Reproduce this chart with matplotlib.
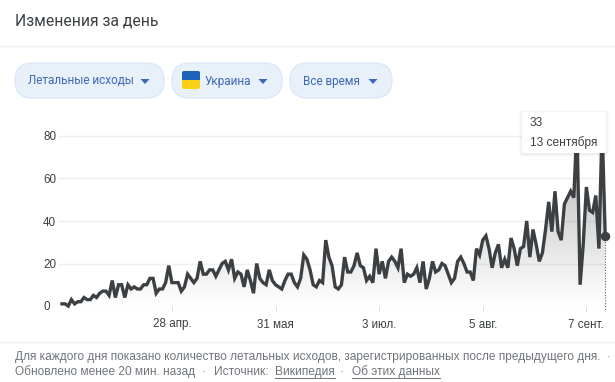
import numpy as np
import pandas as pd
import matplotlib
matplotlib.use('Agg')
import matplotlib.pyplot as plt
from matplotlib.colors import LinearSegmentedColormap
from matplotlib.patches import FancyBboxPatch, Polygon, Rectangle

# значения за день
deaths = [1, 1, 0, 3, 1, 2, 2, 4, 3, 3, 5, 4, 6, 7, 7, 5, 12, 4, 10, 10,
          4, 10, 8, 9, 8, 8, 10, 10, 13, 13, 6, 8, 8, 11, 19, 11, 11, 11, 7, 9,
          15, 13, 11, 13, 21, 15, 15, 17, 17, 14, 17, 20, 21, 17, 22, 13, 16, 15, 9, 17,
          12, 6, 20, 13, 11, 10, 17, 12, 10, 9, 8, 12, 15, 15, 11, 9, 13, 24, 22, 17,
          10, 9, 12, 11, 31, 23, 19, 9, 8, 10, 23, 16, 16, 19, 25, 19, 18, 12, 14, 11,
          27, 15, 21, 13, 21, 23, 21, 18, 27, 11, 15, 14, 15, 18, 11, 21, 8, 13, 21, 16,
          17, 20, 19, 15, 11, 13, 21, 23, 20, 16, 16, 12, 27, 24, 31, 33, 27, 18, 25, 29,
          18, 22, 18, 32, 27, 19, 27, 28, 40, 23, 36, 29, 21, 25, 36, 49, 35, 54, 35, 31,
          48, 51, 54, 51, 85, 10, 29, 56, 45, 44, 52, 27, 85, 33]
start_date = '2020-03-24'
x_ticks = ['2020-04-28', '2020-05-31', '2020-07-03', '2020-08-05', '2020-09-07']
x_labels = ['28 апр.', '31 мая', '3 июл.', '5 авг.', '7 сент.']
y_ticks = [0, 20, 40, 60, 80]
filters = ['Летальные исходы', 'Украина', 'Все время']

W, H = 615, 382
plt.rcParams['font.family'] = ['Liberation Sans', 'DejaVu Sans']

days = pd.date_range(start_date, periods=len(deaths))
x = matplotlib.dates.date2num(days)

fig = plt.figure(figsize=(W / 100, H / 100), dpi=100, facecolor='white')

# область графика (в пикселях: 58..606 по x, 0 на y=306)
ax = fig.add_axes([58 / W, (H - 306) / H, 548 / W, 191 / H])
for s in ax.spines.values():
    s.set_visible(False)
ax.set_yticks(y_ticks)
ax.set_yticklabels([str(v) for v in y_ticks], ha='left')
ax.set_xticks(matplotlib.dates.date2num(pd.to_datetime(x_ticks)))
ax.set_xticklabels(x_labels)
ax.tick_params(axis='y', length=0, pad=10.8, labelsize=8.4, labelcolor='#3c4043')
ax.tick_params(axis='x', length=4, width=0.7, color='#dadce0', pad=5, labelsize=8.4, labelcolor='#3c4043')
ax.grid(axis='y', color='#eeeff1', linewidth=1)
ax.set_axisbelow(True)

# заливка с градиентом под линией
cmap = LinearSegmentedColormap.from_list('fade', [(0.24, 0.25, 0.26, 0.0), (0.24, 0.25, 0.26, 0.42)])
grad = ax.imshow(np.linspace(1, 0, 256).reshape(-1, 1), cmap=cmap, aspect='auto',
                 extent=[x[0], x[-1], 0, 85], zorder=1)
poly = Polygon(np.column_stack([np.r_[x[0], x, x[-1]], np.r_[0, deaths, 0]]), transform=ax.transData,
               facecolor='none', edgecolor='none')
ax.add_patch(poly)
grad.set_clip_path(poly)
ax.set_xlim(x[0] - 1.27, x[0] + 173.25)
ax.set_ylim(0, 191 / 2.125)

ax.plot(x, deaths, color='#3c4043', linewidth=2.4, solid_joinstyle='miter', zorder=3, clip_on=False)
ax.plot([x[-1], x[-1]], [deaths[-1], -2], color='#5f6368', linewidth=0.8, linestyle=(0, (1, 1.5)),
        zorder=2, clip_on=False)
ax.plot(x[-1], deaths[-1], 'o', color='#3c4043', markersize=5.8, zorder=4, clip_on=False)

# слой для интерфейса, координаты в пикселях
ui = fig.add_axes([0, 0, 1, 1], zorder=5)
ui.set_xlim(0, W)
ui.set_ylim(H, 0)
ui.axis('off')

ui.text(15, 21, 'Изменения за день', fontsize=11.3, color='#3c4043', va='center', family=['Roboto', 'DejaVu Sans'])
ui.plot([0, W], [46, 46], color='#eceef0', linewidth=1)
ui.plot([0, W], [342, 342], color='#eceef0', linewidth=1)

# кнопки-фильтры
pills = [(15, 164), (172, 282), (290, 392)]
text_x = [28, 205, 303]
arrow_x = [145, 263, 373]
for (x0, x1), arrow in zip(pills, arrow_x):
    ui.add_patch(FancyBboxPatch((x0, 63), x1 - x0, 35, boxstyle='round,pad=0,rounding_size=17.5',
                                facecolor='#e8f0fa', edgecolor='#dde8f8', linewidth=1))
    ui.add_patch(Polygon([(arrow - 4.5, 79), (arrow + 4.5, 79), (arrow, 84)], facecolor='#3b67b5', edgecolor='none'))
for label, tx in zip(filters, text_x):
    ui.text(tx, 81, label, fontsize=8.5, color='#3f68b5', va='center', family=['Roboto', 'DejaVu Sans'])

# флаг
ui.add_patch(FancyBboxPatch((182, 71), 18, 18, boxstyle='round,pad=0,rounding_size=2',
                            facecolor='#fbd115', edgecolor='none'))
top = FancyBboxPatch((182, 71), 18, 18, boxstyle='round,pad=0,rounding_size=2',
                     facecolor='#1c62b8', edgecolor='none')
ui.add_patch(top)
top.set_clip_path(Rectangle((182, 71), 18, 9, transform=ui.transData))

# подсказка с тенью
for pad, alpha in [(3, 0.015), (2, 0.02), (1, 0.03)]:
    ui.add_patch(FancyBboxPatch((522 - pad, 112 - pad + 1), 84 + 2 * pad, 41 + 2 * pad,
                                boxstyle='round,pad=0,rounding_size=3', facecolor='black',
                                edgecolor='none', alpha=alpha))
ui.add_patch(FancyBboxPatch((522, 112), 84, 41, boxstyle='round,pad=0,rounding_size=2',
                            facecolor='white', edgecolor='none'))
ui.text(530, 123.5, '33', fontsize=8.6, color='#3c4043', va='center')
ui.text(530, 143, '13 сентября', fontsize=8.6, color='#3c4043', va='center')

# подвал
grey = '#70757a'
ui.text(15, 357, 'Для каждого дня показано количество летальных исходов, зарегистрированных после предыдущего дня.',
        fontsize=8.6, color=grey, va='center')
ui.text(609, 357, '·', fontsize=8.6, color=grey, va='center', ha='center')
ui.text(15, 372, 'Обновлено менее 20 мин. назад', fontsize=8.6, color=grey, va='center')
ui.text(204, 372, '·', fontsize=8.6, color=grey, va='center', ha='center')
ui.text(214, 372, 'Источник:', fontsize=8.6, color=grey, va='center')
ui.text(275, 372, 'Википедия', fontsize=8.6, color=grey, va='center')
ui.text(342, 372, '·', fontsize=8.6, color=grey, va='center', ha='center')
ui.text(352, 372, 'Об этих данных', fontsize=8.6, color=grey, va='center')
ui.plot([275, 335], [378, 378], color=grey, linewidth=0.7)
ui.plot([352, 440], [378, 378], color=grey, linewidth=0.7)

fig.savefig('out.png', dpi=100)
